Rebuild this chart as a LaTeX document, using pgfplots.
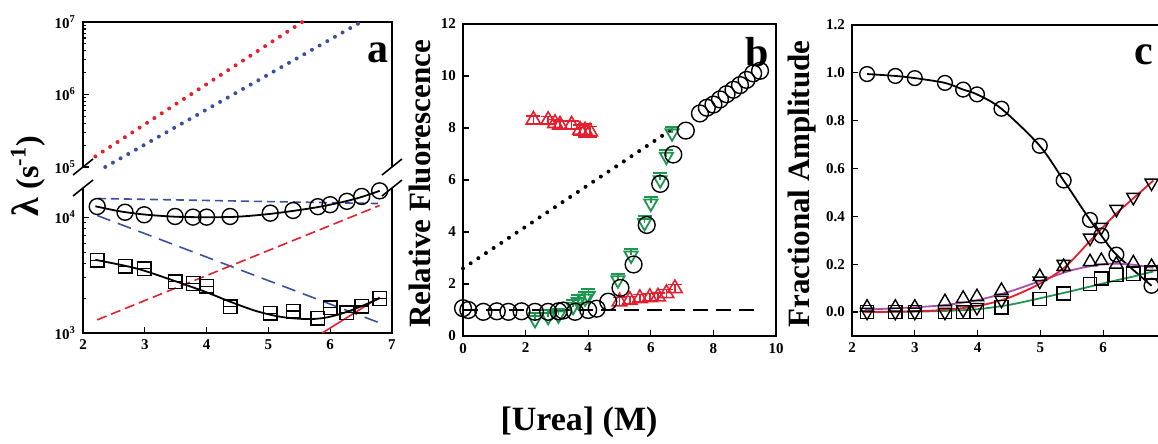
\documentclass[border=0pt]{standalone}
\usepackage{pgfplots}
\pgfplotsset{compat=1.18}
\usepackage{fontspec}
\setmainfont{Liberation Serif}

\definecolor{fred}{RGB}{230,30,45}
\definecolor{fblue}{RGB}{60,80,160}
\definecolor{fgreen}{RGB}{30,150,80}
\definecolor{fpurple}{RGB}{170,80,170}

\pgfplotsset{
  panel/.style={scale only axis, anchor=south west, tick pos=left,
    ticklabel style={font=\bfseries\fontsize{7.5}{9}\selectfont},
    /pgf/number format/assume math mode=true,
    axis line style={line width=0.9pt}, tick style={line width=0.6pt, black},
    major tick length=3pt, minor tick length=1.6pt, clip=false},
  fit/.style={line width=0.9pt, smooth, no marks},
  omark/.style={only marks, mark=o, mark size=#1, mark options={line width=0.7pt, black}},
  smark/.style={only marks, mark=square, mark size=#1, mark options={line width=0.7pt, black}},
}

\begin{document}
\begin{tikzpicture}
\useasboundingbox (0,0) rectangle (579pt,222pt);
\clip (0,0) rectangle (579pt,222pt);

% ---- panel a, lower part
\begin{axis}[panel, at={(41.5pt,55.5pt)}, width=154.5pt, height=72.5pt,
  xmin=2, xmax=7, ymode=log, ymin=1000, ymax=18000,
  xtick={2,3,4,5,6,7}, ytick={1000,10000},
  yticklabels={10\textsuperscript{3},10\textsuperscript{4}},
  axis line style={draw=none}]
  \draw[line width=0.9pt] (rel axis cs:0,1) -- (rel axis cs:0,0) -- (rel axis cs:1,0) -- (rel axis cs:1,1);
  \addplot[fblue, line width=0.8pt, dash pattern=on 4pt off 2.5pt] coordinates {(2.24,14600) (6.77,13200)};
  \addplot[fblue, line width=0.8pt, dash pattern=on 7pt off 4pt] coordinates {(2.23,10400) (6.84,1200)};
  \addplot[fred, line width=0.8pt, dash pattern=on 5pt off 2.5pt] coordinates {(2.23,1300) (6.8,12700)};
  \addplot[fred, line width=0.8pt] coordinates {(5.87,1000) (6.8,2040)};
  \addplot[fit, black] coordinates {(2.2,12500) (2.6,11300) (3,10600) (3.5,10150) (4,10050) (4.5,10150) (5,10700) (5.4,11400) (5.8,12300) (6.2,13600) (6.5,15000) (6.8,17000)};
  \addplot[fit, black] coordinates {(2.2,4300) (2.7,3800) (3,3450) (3.5,2800) (4,2250) (4.4,1850) (4.8,1550) (5.2,1380) (5.6,1320) (5.9,1350) (6.2,1480) (6.5,1700) (6.8,2000)};
  \addplot[omark=4pt] coordinates {(2.23,12440) (2.68,11100) (2.99,10550) (3.49,10200) (3.78,10070) (4.0,10070) (4.38,10200) (5.03,10900) (5.4,11500) (5.8,12400) (6.0,12900) (6.27,13800) (6.51,15200) (6.8,17000)};
  \addplot[smark=3.4pt] coordinates {(2.23,4270) (2.68,3780) (2.99,3600) (3.49,2770) (3.78,2680) (4.0,2540) (4.38,1690) (5.03,1480) (5.4,1550) (5.8,1340) (6.0,1650) (6.27,1500) (6.51,1710) (6.8,1990)};
  \addplot[only marks, mark=-, mark size=3.4pt, mark options={line width=0.6pt, black}] coordinates {(2.23,4270) (2.68,3780) (2.99,3600) (3.49,2770) (3.78,2680) (4.0,2540) (4.38,1690) (5.03,1480) (5.4,1550) (5.8,1340) (6.0,1650) (6.27,1500) (6.51,1710) (6.8,1990)};
  \draw[line width=0.8pt] (rel axis cs:0,1) ++(-5pt,-4pt) -- ++(10pt,8pt);
  \draw[line width=0.8pt] (rel axis cs:1,1) ++(-5pt,-4pt) -- ++(10pt,8pt);
\end{axis}

% ---- panel a, upper part
\begin{axis}[panel, at={(41.5pt,138.5pt)}, width=154.5pt, height=72.5pt,
  xmin=2, xmax=7, ymode=log, ymin=1e5, ymax=1e7, xtick=\empty,
  ytick={1e5,1e6,1e7},
  yticklabels={10\textsuperscript{5},10\textsuperscript{6},10\textsuperscript{7}},
  axis line style={draw=none}]
  \draw[line width=0.9pt] (rel axis cs:0,0) -- (rel axis cs:0,1) -- (rel axis cs:1,1) -- (rel axis cs:1,0);
  \addplot[fred, line width=2pt, line cap=round, dash pattern=on 0pt off 4.4pt] coordinates {(2.2,1.4e5) (5.55,1e7)};
  \addplot[fblue, line width=2pt, line cap=round, dash pattern=on 0pt off 4.4pt] coordinates {(2.36,1.0e5) (6.5,1e7)};
  \draw[line width=0.8pt] (rel axis cs:0,0) ++(-5pt,-4pt) -- ++(10pt,8pt);
  \draw[line width=0.8pt] (rel axis cs:1,0) ++(-5pt,-4pt) -- ++(10pt,8pt);
  \node[font=\bfseries\fontsize{21}{21}\selectfont] at (rel axis cs:0.955,0.79) {a};
\end{axis}
\node[rotate=90, font=\bfseries\fontsize{16}{16}\selectfont] at (14pt,134pt) {{\fontsize{19}{19}\selectfont λ} (s\textsuperscript{-1})};

% ---- panel b
\begin{axis}[panel, at={(231.5pt,54pt)}, width=156.5pt, height=156pt,
  xmin=0, xmax=10, ymin=0, ymax=12, xtick={0,2,...,10}, ytick={0,2,...,12}]
  \addplot[black, line width=2pt, line cap=round, dash pattern=on 0pt off 4.6pt] coordinates {(0,2.6) (6.8,8.05)};
  \addplot[black, line width=0.8pt, dash pattern=on 7.5pt off 4pt] coordinates {(0,1.0) (9.3,1.0)};
  \addplot[only marks, fred, mark=triangle, mark size=4.2pt, mark options={line width=0.8pt},
    error bars/.cd, y dir=both, y explicit, error bar style={line width=0.7pt}, error mark options={rotate=90, mark size=3.5pt, line width=0.7pt}]
    coordinates {(2.25,8.31) +- (0,0.15) (2.72,8.3) +- (0,0.15) (2.94,8.18) +- (0,0.15) (3.1,8.12) +- (0,0.15) (3.47,8.12) +- (0,0.15) (3.74,7.92) +- (0,0.2) (3.9,7.9) +- (0,0.25) (4.06,7.86) +- (0,0.2)
      (5.0,1.32) +- (0,0.15) (5.33,1.38) +- (0,0.15) (5.65,1.45) +- (0,0.15) (5.97,1.49) +- (0,0.15) (6.23,1.51) +- (0,0.15) (6.5,1.64) +- (0,0.15) (6.77,1.83) +- (0,0.15)};
  \addplot[only marks, fgreen, mark=triangle, mark size=3.8pt, mark options={rotate=180, line width=0.9pt},
    error bars/.cd, y dir=plus, y explicit, error bar style={line width=0.7pt}, error mark options={rotate=90, mark size=3.5pt, line width=1pt}]
    coordinates {(2.3,0.62) +- (0,0.25) (2.72,0.74) +- (0,0.25) (3.05,0.8) +- (0,0.25) (3.52,1.13) +- (0,0.25) (3.68,1.32) +- (0,0.25) (3.9,1.45) +- (0,0.25) (4.0,1.55) +- (0,0.25) (4.95,2.15) +- (0,0.25) (5.37,3.1) +- (0,0.25) (5.8,4.35) +- (0,0.25) (6.0,5.1) +- (0,0.25) (6.3,6.0) +- (0,0.25) (6.5,6.9) +- (0,0.25) (6.68,7.8) +- (0,0.25)};
  \addplot[omark=4.2pt] coordinates {(0,1.07) (0.17,1.0) (0.65,0.93) (1.08,0.95) (1.45,0.93) (1.87,0.95) (2.3,0.93) (2.72,0.93) (3.05,0.95) (3.2,0.98) (3.58,0.93) (4.0,1.0) (4.27,1.05) (4.64,1.32) (5.03,1.85) (5.45,2.75) (5.87,4.27) (6.3,5.85) (6.72,6.98) (7.12,7.9) (7.57,8.56) (7.79,8.78) (8.0,8.9) (8.21,9.1) (8.42,9.3) (8.64,9.47) (8.85,9.65) (9.06,9.85) (9.27,10.1) (9.49,10.2)};
  \node[font=\bfseries\fontsize{21}{21}\selectfont] at (rel axis cs:0.94,0.91) {b};
\end{axis}
\node[rotate=90, font=\bfseries\fontsize{15.5}{15.5}\selectfont] at (210pt,130pt) {Relative Fluorescence};

% ---- panel c
\begin{axis}[panel, at={(426pt,54pt)}, width=157pt, height=155.5pt,
  xmin=2, xmax=7, ymin=-0.1, ymax=1.2, xtick={2,3,4,5,6}, ytick={0,0.2,...,1.2},
  yticklabel style={/pgf/number format/.cd, fixed, fixed zerofill, precision=1}]
  \addplot[fit, black] coordinates {(2.24,0.995) (2.69,0.987) (3.0,0.978) (3.48,0.958) (3.77,0.93) (3.99,0.91) (4.38,0.85) (4.99,0.695) (5.37,0.55) (5.79,0.385) (5.97,0.32) (6.21,0.24) (6.77,0.11)};
  \addplot[fit, fgreen] coordinates {(2.2,0) (3,0.002) (3.5,0.005) (4,0.012) (4.5,0.03) (5,0.058) (5.5,0.088) (6,0.12) (6.5,0.15) (6.8,0.17)};
  \addplot[fit, fpurple] coordinates {(2.2,0.01) (3,0.02) (3.5,0.03) (4,0.05) (4.5,0.085) (5,0.13) (5.5,0.175) (6,0.2) (6.4,0.2) (6.8,0.185)};
  \addplot[fit, fred] coordinates {(2.2,0.0) (3,0.003) (3.5,0.01) (4,0.025) (4.5,0.06) (5,0.12) (5.4,0.19) (5.8,0.3) (6.2,0.41) (6.5,0.48) (6.8,0.55)};
  \addplot[smark=3.3pt] coordinates {(2.24,0.0) (2.69,0.0) (3.0,0.0) (3.48,0.0) (3.77,0.0) (3.99,0.0) (4.38,0.02) (4.99,0.055) (5.37,0.078) (5.79,0.118) (5.97,0.14) (6.21,0.155) (6.48,0.16) (6.77,0.165)};
  \addplot[only marks, mark=triangle, mark size=3.8pt, mark options={line width=0.7pt, black}] coordinates {(2.24,0.02) (2.69,0.02) (3.0,0.02) (3.48,0.043) (3.77,0.057) (3.99,0.064) (4.38,0.09) (4.99,0.148) (5.37,0.19) (5.79,0.21) (5.97,0.215) (6.21,0.2) (6.48,0.205) (6.77,0.19)};
  \addplot[only marks, mark=triangle, mark size=3.8pt, mark options={rotate=180, line width=0.7pt, black}] coordinates {(2.24,0.0) (2.69,0.0) (3.0,0.0) (3.48,0.0) (3.77,0.01) (3.99,0.02) (4.38,0.05) (4.99,0.13) (5.37,0.2) (5.79,0.31) (5.97,0.355) (6.21,0.43) (6.48,0.48) (6.77,0.54)};
  \addplot[omark=3.7pt] coordinates {(2.24,0.995) (2.69,0.987) (3.0,0.978) (3.48,0.958) (3.77,0.93) (3.99,0.91) (4.38,0.85) (4.99,0.695) (5.37,0.55) (5.79,0.385) (5.97,0.32) (6.21,0.24) (6.77,0.11)};
  \node[font=\bfseries\fontsize{21}{21}\selectfont] at (rel axis cs:0.93,0.905) {c};
\end{axis}
\node[rotate=90, font=\bfseries\fontsize{15.5}{15.5}\selectfont] at (401pt,130pt) {Fractional Amplitude};

\node[font=\bfseries\fontsize{17}{17}\selectfont] at (289.5pt,11pt) {[Urea] (M)};
\end{tikzpicture}
\end{document}
